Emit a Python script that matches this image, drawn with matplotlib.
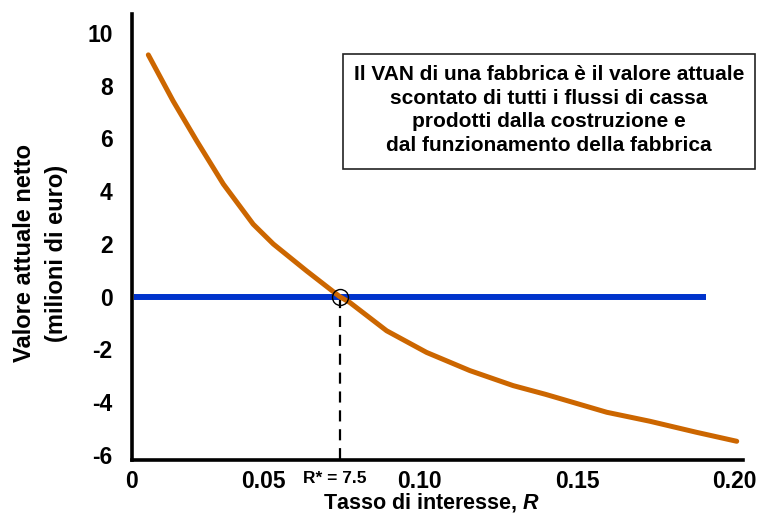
import matplotlib
matplotlib.use("Agg")
import matplotlib.pyplot as plt
import matplotlib.transforms as mtransforms
from matplotlib.patches import Rectangle

plt.rcParams['font.family'] = ['Liberation Sans', 'DejaVu Sans']
plt.rcParams['font.weight'] = 'bold'
plt.rcParams['mathtext.fontset'] = 'custom'
plt.rcParams['mathtext.it'] = 'Liberation Sans:bold:italic'
plt.rcParams['mathtext.rm'] = 'Liberation Sans:bold'

# Data
rate = [0.0135, 0.0214, 0.0289, 0.0374, 0.0469, 0.0533, 0.0639, 0.0745,
        0.0777, 0.0894, 0.1021, 0.1159, 0.1297, 0.1400, 0.1595, 0.1732,
        0.1881, 0.2009]
npv = [9.17, 7.42, 5.91, 4.27, 2.75, 2.00, 0.98, 0.0,
       -0.22, -1.29, -2.11, -2.80, -3.37, -3.70, -4.38, -4.72,
       -5.14, -5.48]
zero_line_x = [0.0090, 0.191]
zero_line_y = [0, 0]
R_STAR = 0.0745
x_ticks = [0.0083, 0.05, 0.10, 0.15, 0.20]
x_tick_labels = ['0', '0.05', '0.10', '0.15', '0.20']
y_ticks = [10, 8, 6, 4, 2, 0, -2, -4, -6]
y_tick_labels = ['10', '8', '6', '4', '2', '0', '-2', '-4', '-6']
box_text = ("Il VAN di una fabbrica è il valore attuale\n"
            "scontato di tutti i flussi di cassa\n"
            "prodotti dalla costruzione e\n"
            "dal funzionamento della fabbrica")

W, H = 758, 514
fig = plt.figure(figsize=(W / 100, H / 100), dpi=100)
ax = fig.add_axes([132 / W, 1 - 460 / H, (743 - 132) / W, (460 - 14) / H])

ax.plot(zero_line_x, zero_line_y, color='#0033CC', lw=4.3, solid_capstyle='butt', zorder=2)
ax.plot(rate, npv, color='#CC6600', lw=3.6, solid_capstyle='round',
        solid_joinstyle='round', zorder=3)
ax.plot([R_STAR, R_STAR], [0, -6.19], color='black', lw=1.6, dashes=(5, 3.5), zorder=1)
ax.plot([R_STAR], [0], marker='o', ms=11.5, mfc='none', mec='black', mew=1.0, zorder=4)

ax.set_xlim(0.0083, 0.2029)
ax.set_ylim(-6.19, 10.72)
ax.set_xticks(x_ticks)
ax.set_xticklabels(x_tick_labels)
ax.set_yticks(y_ticks)
ax.set_yticklabels(y_tick_labels)
ax.tick_params(axis='both', length=0, labelsize=16.5)
ax.tick_params(axis='y', pad=14)
ax.tick_params(axis='x', pad=7)
for lab in ax.get_xticklabels() + ax.get_yticklabels():
    lab.set_fontweight('bold')

for s in ['top', 'right']:
    ax.spines[s].set_visible(False)
for s in ['left', 'bottom']:
    ax.spines[s].set_linewidth(2.6)

ax.text(0.0729, -6.19, 'R* = 7.5', fontsize=12.5, fontweight='bold', ha='center', va='top',
        transform=ax.transData + mtransforms.ScaledTranslation(0, -11 / 100, fig.dpi_scale_trans))

fig.text(431 / W, 1 - 502 / H, r'Tasso di interesse, $\mathit{R}$', fontsize=15.5,
         fontweight='bold', ha='center', va='center')
fig.text(25 / W, 1 - 253 / H, 'Valore attuale netto', fontsize=17, fontweight='bold',
         rotation=90, ha='center', va='center')
fig.text(57 / W, 1 - 253 / H, '(milioni di euro)', fontsize=17, fontweight='bold',
         rotation=90, ha='center', va='center')

fig.add_artist(Rectangle((343 / W, 1 - 169 / H), (755 - 343) / W, (169 - 54) / H,
                         transform=fig.transFigure, fill=False, edgecolor='#222222', lw=1.2))
fig.text(549 / W, 1 - 110 / H, box_text, fontsize=15, fontweight='bold',
         ha='center', va='center', linespacing=1.3)

fig.savefig('out.png', dpi=100)
